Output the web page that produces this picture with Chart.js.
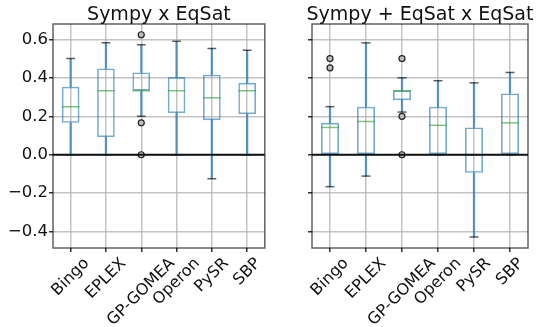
<!DOCTYPE html>
<html><head><meta charset="utf-8">
<script src="https://cdn.jsdelivr.net/npm/chart.js@4"></script>
<style>
html,body{margin:0;padding:0;background:#fff;width:538px;height:327px;overflow:hidden}
canvas{position:absolute;top:0}
</style></head>
<body>
<canvas id="c1" width="270" height="327" style="left:0px"></canvas>
<canvas id="c2" width="268" height="327" style="left:270px"></canvas>
<script>
const categories = ['Bingo', 'EPLEX', 'GP-GOMEA', 'Operon', 'PySR', 'SBP'];
const tickValues = [-0.4, -0.2, 0.0, 0.2, 0.4, 0.6];
const tickLabels = ['\u22120.4', '\u22120.2', '0.0', '0.2', '0.4', '0.6'];
const titles = ['Sympy x EqSat', 'Sympy + EqSat x EqSat'];

// Left panel: Sympy x EqSat
const leftLow      = [0.0, 0.0, 0.2, 0.0, -0.125, 0.0];
const leftQ1       = [0.166, 0.092, 0.333, 0.217, 0.18, 0.212];
const leftMedian   = [0.25, 0.333, 0.333, 0.333, 0.296, 0.333];
const leftQ3       = [0.354, 0.449, 0.428, 0.404, 0.416, 0.374];
const leftHigh     = [0.5, 0.582, 0.572, 0.59, 0.553, 0.543];
const leftOutliers = [[], [], [0.624, 0.166, 0.0], [], [], []];

// Right panel: Sympy + EqSat x EqSat
const rightLow      = [-0.166, -0.111, 0.222, 0.0, -0.428, 0.0];
const rightQ1       = [0.0, 0.0, 0.284, 0.0, -0.094, 0.0];
const rightMedian   = [0.142, 0.173, 0.333, 0.153, 0.0, 0.166];
const rightQ3       = [0.166, 0.25, 0.335, 0.25, 0.142, 0.319];
const rightHigh     = [0.25, 0.582, 0.4, 0.385, 0.374, 0.428];
const rightOutliers = [[0.5, 0.452], [], [0.5, 0.2, 0.0], [], [], []];

const BOX = 'rgba(31,119,180,0.62)';
const WHISK = 'rgba(31,119,180,0.7)';
const MED = 'rgba(44,160,44,0.6)';
const CAP = 'rgba(0,0,0,0.62)';
const GRID = 'rgba(176,176,176,0.75)';
const FONT = '"DejaVu Sans", sans-serif';

function makeChart(id, title, low, q1, med, q3, high, outl, yWidth, padRight, showY) {
  const outPts = [];
  outl.forEach((arr, i) => arr.forEach(v => outPts.push({x: categories[i], y: v})));
  const plugin = {
    id: 'boxExtras',
    afterDatasetsDraw(chart) {
      const {ctx, chartArea: a, scales: {x, y}} = chart;
      const boxMeta = chart.getDatasetMeta(1);
      ctx.save();
      ctx.beginPath(); ctx.rect(a.left, a.top, a.right - a.left, a.bottom - a.top); ctx.clip();
      categories.forEach((c, i) => {
        const cx = x.getPixelForValue(i);
        const bw = boxMeta.data[i].width;
        ctx.lineWidth = 1.5;
        ctx.strokeStyle = CAP;
        [low[i], high[i]].forEach(v => {
          const py = y.getPixelForValue(v);
          ctx.beginPath(); ctx.moveTo(cx - bw / 4, py); ctx.lineTo(cx + bw / 4, py); ctx.stroke();
        });
        ctx.strokeStyle = MED;
        const pm = y.getPixelForValue(med[i]);
        ctx.beginPath(); ctx.moveTo(cx - bw / 2, pm); ctx.lineTo(cx + bw / 2, pm); ctx.stroke();
      });
      // zero line
      const z = y.getPixelForValue(0);
      ctx.strokeStyle = '#111'; ctx.lineWidth = 2;
      ctx.beginPath(); ctx.moveTo(a.left, z); ctx.lineTo(a.right, z); ctx.stroke();
      ctx.restore();
      // frame
      ctx.save();
      ctx.strokeStyle = 'rgba(0,0,0,0.62)'; ctx.lineWidth = 1.5;
      ctx.strokeRect(a.left, a.top, a.right - a.left, a.bottom - a.top);
      // title
      ctx.fillStyle = '#111';
      ctx.font = '19px ' + FONT;
      ctx.textAlign = 'center'; ctx.textBaseline = 'alphabetic';
      ctx.fillText(title, (a.left + a.right) / 2, 19.5);
      // rotated x labels
      ctx.font = '16px ' + FONT;
      ctx.textBaseline = 'middle';
      categories.forEach((c, i) => {
        const cx = x.getPixelForValue(i);
        const w = ctx.measureText(c).width;
        const half = (w + 17) * Math.SQRT1_2 / 2;
        ctx.save();
        ctx.translate(cx, a.bottom + 7 + half);
        ctx.rotate(-Math.PI / 4);
        ctx.fillText(c, 0, 0);
        ctx.restore();
      });
      ctx.restore();
    }
  };
  return new Chart(document.getElementById(id), {
    type: 'bar',
    data: {
      labels: categories,
      datasets: [
        {type: 'line', data: outPts, showLine: false, pointRadius: 3,
         pointBackgroundColor: 'rgba(190,190,190,1)', pointBorderColor: '#222', pointBorderWidth: 1.2},
        {data: categories.map((c, i) => [q1[i], q3[i]]), backgroundColor: 'rgba(0,0,0,0)',
         borderColor: BOX, borderWidth: 1.6, borderSkipped: false, grouped: false,
         barPercentage: 0.5, categoryPercentage: 1},
        {data: categories.map((c, i) => [low[i], q1[i]]), backgroundColor: WHISK, borderWidth: 0,
         grouped: false, barThickness: 1.6},
        {data: categories.map((c, i) => [q3[i], high[i]]), backgroundColor: WHISK, borderWidth: 0,
         grouped: false, barThickness: 1.6}
      ]
    },
    options: {
      responsive: false, animation: false, devicePixelRatio: 1, events: [],
      layout: {padding: {top: 24, right: padRight, left: 0, bottom: 0}},
      plugins: {legend: {display: false}, tooltip: {enabled: false}, title: {display: false}},
      scales: {
        x: {
          type: 'category', offset: true,
          grid: {offset: false, color: GRID, lineWidth: 1.5, tickColor: '#333', tickLength: 4, drawTicks: true},
          border: {display: false},
          ticks: {display: false},
          afterFit: s => { s.height = 79; }
        },
        y: {
          type: 'linear', min: -0.485, max: 0.68,
          afterBuildTicks: s => { s.ticks = tickValues.map(v => ({value: v})); },
          grid: {color: GRID, lineWidth: 1.5, tickColor: '#333', tickLength: 4, drawTicks: true},
          border: {display: false},
          ticks: {display: showY, color: '#111', padding: 1, font: {family: FONT, size: 16.5},
                  callback: v => { const k = tickValues.findIndex(t => Math.abs(t - v) < 1e-9); return k >= 0 ? tickLabels[k] : ''; }},
          afterFit: s => { s.width = yWidth; }
        }
      }
    },
    plugins: [plugin]
  });
}

makeChart('c1', titles[0], leftLow, leftQ1, leftMedian, leftQ3, leftHigh, leftOutliers, 53, 1, true);
makeChart('c2', titles[1], rightLow, rightQ1, rightMedian, rightQ3, rightHigh, rightOutliers, 42, 10, false);
</script>
</body></html>
